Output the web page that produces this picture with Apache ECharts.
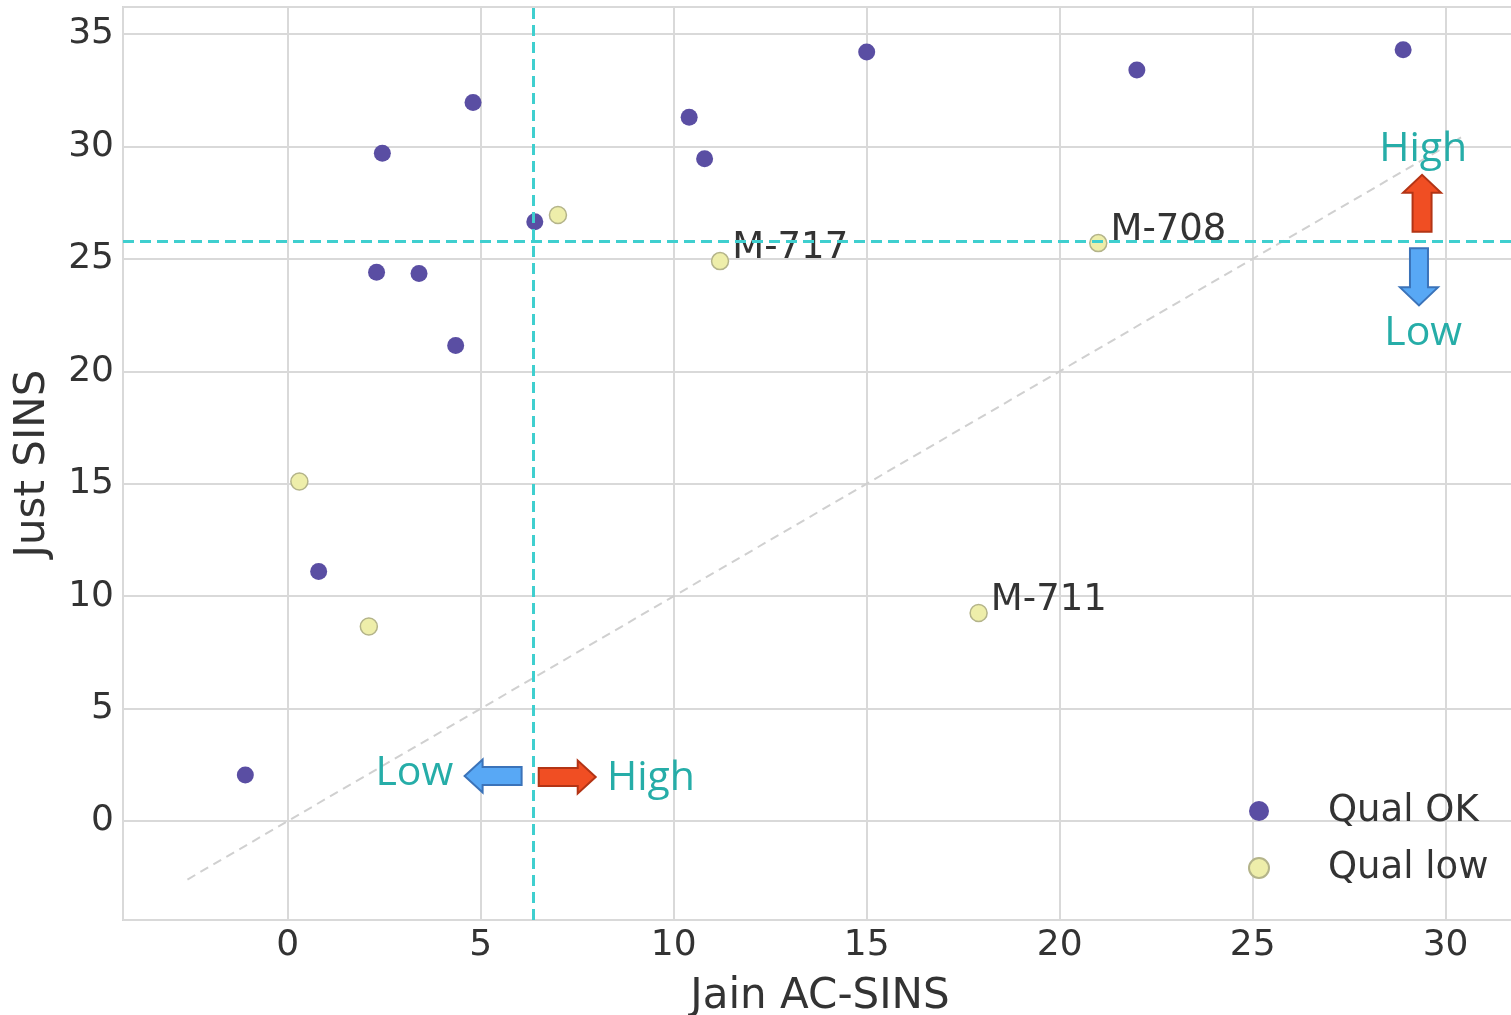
<!DOCTYPE html>
<html>
<head>
<meta charset="utf-8">
<script src="https://cdn.jsdelivr.net/npm/echarts@6/dist/echarts.min.js"></script>
<style>
  html, body { margin: 0; padding: 0; background: #fff; }
  #chart { width: 1511px; height: 1015px; }
</style>
</head>
<body>
<div id="chart"></div>
<script>
// values
var okX  = [-1.1, 0.8, 2.3, 2.45, 3.4, 4.35, 4.8, 6.4, 10.4, 10.8, 15.0, 22.0, 28.9];
var okY  = [2.05, 11.1, 24.4, 29.7, 24.35, 21.15, 31.95, 26.65, 31.3, 29.45, 34.2, 33.4, 34.3];
var lowX = [0.3, 2.1, 7.0, 11.2, 21.0, 17.9];
var lowY = [15.1, 8.65, 26.95, 24.9, 25.7, 9.25];
var lowNames = ['', '', '', 'M-717', 'M-708', 'M-711'];
var xThreshold = 6.35;
var yThreshold = 25.8;
var diagRange = [-2.6, 30.4];
var xRange = [-4.27, 31.85];
var yRange = [-4.4, 36.2];

var teal = '#26ada8';
var fontMain = 'DejaVu Sans';

function pairs(xs, ys) {
  return xs.map(function (x, i) { return [x, ys[i]]; });
}

var lowData = lowX.map(function (x, i) {
  return { value: [x, lowY[i]], name: lowNames[i] };
});

var chart = echarts.init(document.getElementById('chart'));

chart.setOption({
  animation: false,
  grid: {
    left: 123, top: 7, right: -6, bottom: 95, outerBoundsMode: 'none',
    show: true, borderColor: '#d4d4d4', borderWidth: 2
  },
  xAxis: {
    type: 'value', min: xRange[0], max: xRange[1], splitNumber: 7,
    name: 'Jain AC-SINS', nameLocation: 'middle', nameGap: 56,
    nameTextStyle: { fontFamily: fontMain, fontSize: 42, color: '#333' },
    axisLine: { show: false }, axisTick: { show: false },
    axisLabel: {
      fontFamily: fontMain, fontSize: 36, color: '#333', margin: 8,
      formatter: function (v) { return Math.abs(v % 5) < 1e-6 ? String(v) : ''; }
    },
    splitLine: { show: true, lineStyle: { color: '#d9d9d9', width: 2 } }
  },
  yAxis: {
    type: 'value', min: yRange[0], max: yRange[1], splitNumber: 8,
    name: 'Just SINS', nameLocation: 'middle', nameGap: 69,
    nameTextStyle: { fontFamily: fontMain, fontSize: 42, color: '#333' },
    axisLine: { show: false }, axisTick: { show: false },
    axisLabel: {
      fontFamily: fontMain, fontSize: 36, color: '#333', margin: 9,
      formatter: function (v) { return Math.abs(v % 5) < 1e-6 ? String(v) : ''; }
    },
    splitLine: { show: true, lineStyle: { color: '#d9d9d9', width: 2 } }
  },
  legend: {
    orient: 'vertical', left: 1243, top: 784,
    itemWidth: 20, itemHeight: 20, itemGap: 13,
    textStyle: { fontFamily: fontMain, fontSize: 37, color: '#333', lineHeight: 44, padding: [0, 0, 0, 54] },
    data: [
      { name: 'Qual OK', icon: 'circle' },
      { name: 'Qual low', icon: 'circle' }
    ]
  },
  series: [
    {
      name: 'diag', type: 'line', silent: true, symbol: 'none', z: 1,
      data: [[diagRange[0], diagRange[0]], [diagRange[1], diagRange[1]]],
      lineStyle: { color: '#d0d0d0', width: 2, type: [9, 6] },
      markLine: {
        silent: true, symbol: 'none', label: { show: false },
        lineStyle: { color: '#3fcfcf', width: 3, type: [11, 6] },
        data: [{ xAxis: xThreshold }, { yAxis: yThreshold }]
      }
    },
    {
      name: 'Qual OK', type: 'scatter', symbolSize: 17, z: 3,
      data: pairs(okX, okY),
      itemStyle: { color: '#5a4ea3', opacity: 1 }
    },
    {
      name: 'Qual low', type: 'scatter', symbolSize: 17, z: 3,
      data: lowData,
      itemStyle: { color: '#eeeeaa', borderColor: '#b4b48a', borderWidth: 1.5, opacity: 1 },
      label: {
        show: true, position: 'right', distance: 3, offset: [0, -13],
        fontFamily: fontMain, fontSize: 37, color: '#333',
        formatter: function (p) { return p.name || ''; }
      }
    }
  ]
});

// annotations placed in data coordinates
var annotations = [
  { kind: 'text', text: 'High', at: [29.42, 29.87] },
  { kind: 'arrow', dir: 'up', fill: '#f04e23', stroke: '#b33415', at: [29.39, 27.47], len: 57, head: 18, half: 19, shaft: 9.5 },
  { kind: 'arrow', dir: 'down', fill: '#58a8f5', stroke: '#3b73b9', at: [29.31, 24.2], len: 57, head: 18, half: 19, shaft: 9 },
  { kind: 'text', text: 'Low', at: [29.42, 21.7] },
  { kind: 'text', text: 'Low', at: [3.28, 2.13] },
  { kind: 'arrow', dir: 'left', fill: '#58a8f5', stroke: '#3b73b9', at: [5.32, 2.0], len: 57, head: 18, half: 16.5, shaft: 9 },
  { kind: 'arrow', dir: 'right', fill: '#f04e23', stroke: '#b33415', at: [7.24, 1.96], len: 57, head: 18, half: 16.5, shaft: 9 },
  { kind: 'text', text: 'High', at: [9.41, 1.91] }
];

function arrowPoints(a) {
  var L = a.len / 2, hl = a.head, h = a.half, s = a.shaft;
  var pts = [[-L, -s], [L - hl, -s], [L - hl, -h], [L, 0], [L - hl, h], [L - hl, s], [-L, s]];
  var ang = { right: 0, down: Math.PI / 2, left: Math.PI, up: -Math.PI / 2 }[a.dir];
  var c = Math.cos(ang), sn = Math.sin(ang);
  return pts.map(function (p) { return [p[0] * c - p[1] * sn, p[0] * sn + p[1] * c]; });
}

var graphics = annotations.map(function (a) {
  var px = chart.convertToPixel({ gridIndex: 0 }, a.at);
  if (a.kind === 'text') {
    return {
      type: 'text', x: px[0], y: px[1], z: 10,
      style: { text: a.text, fill: teal, font: '41px "Open Sans"', textAlign: 'center', textVerticalAlign: 'middle' }
    };
  }
  return {
    type: 'polygon', x: px[0], y: px[1], z: 10,
    shape: { points: arrowPoints(a) },
    style: { fill: a.fill, stroke: a.stroke, lineWidth: 2 }
  };
});

chart.setOption({ graphic: graphics });
</script>
</body>
</html>
